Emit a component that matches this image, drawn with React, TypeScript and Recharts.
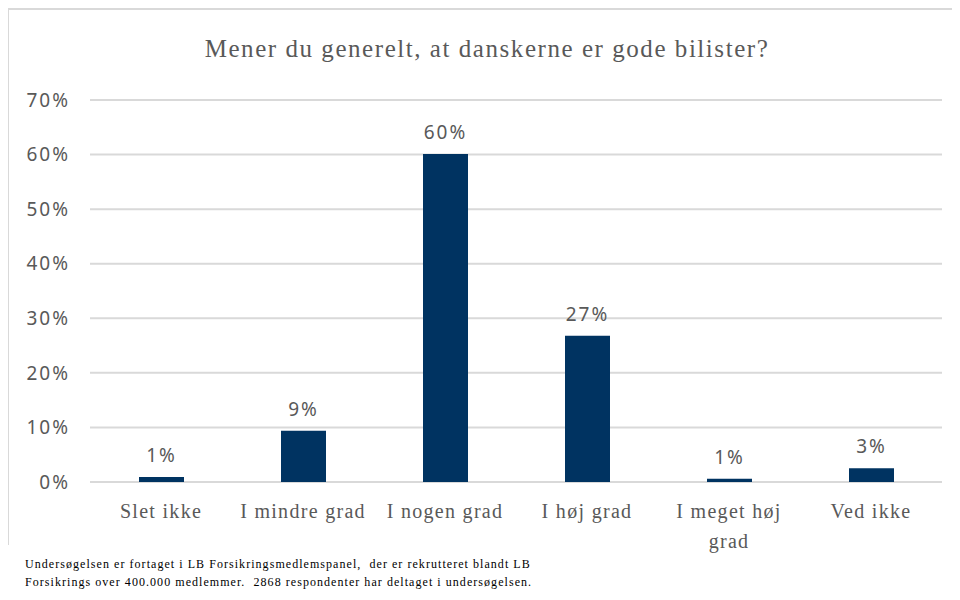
import React from 'react';
import { BarChart, Bar, XAxis, YAxis, CartesianGrid, LabelList } from 'recharts';

const categories = ['Slet ikke', 'I mindre grad', 'I nogen grad', 'I høj grad', 'I meget høj grad', 'Ved ikke'];
const shares = [0.9, 9.4, 60.1, 26.8, 0.6, 2.5];
const yTicks = [0, 10, 20, 30, 40, 50, 60, 70];

const TITLE = 'Mener du generelt, at danskerne er gode bilister?';
const NOTE_1 = 'Undersøgelsen er fortaget i LB Forsikringsmedlemspanel,  der er rekrutteret blandt LB';
const NOTE_2 = 'Forsikrings over 400.000 medlemmer.  2868 respondenter har deltaget i undersøgelsen.';

const data = categories.map((name, i) => ({ name, value: shares[i] }));

const GREY = '#595959';
const NAVY = '#003361';
const SERIF = '"Liberation Serif", "DejaVu Serif", serif';
const SANS = '"Noto Sans", "Open Sans", sans-serif';

// long labels break before the last word, like the original
const splitLabel = (s: string) => {
  if (s.length <= 14) return [s];
  const i = s.lastIndexOf(' ');
  return [s.slice(0, i), s.slice(i + 1)];
};

const CategoryTick = ({ x, y, payload }: any) => {
  const lines = splitLabel(String(payload.value));
  return (
    <text
      x={x}
      y={y}
      textAnchor="middle"
      fontFamily={SERIF}
      fontSize={20}
      letterSpacing={1.3}
      fill={GREY}
    >
      {lines.map((l, i) => (
        <tspan key={i} x={x} dy={i === 0 ? 16 : 30}>
          {l}
        </tspan>
      ))}
    </text>
  );
};

const App: React.FC = () => {
  return (
    <div style={{ position: 'relative', width: 952, height: 592, background: '#fff' }}>
      <div
        style={{
          position: 'absolute',
          left: -1,
          top: 0,
          width: 960,
          height: 537,
          borderTop: '2px solid #d9d9d9',
          borderLeft: '2px solid #d9d9d9',
          boxSizing: 'border-box',
        }}
      />
      <div
        style={{
          position: 'absolute',
          left: 0,
          top: 27,
          width: 958,
          textAlign: 'center',
          fontFamily: SERIF,
          fontSize: 25,
          letterSpacing: 1.55,
          color: GREY,
        }}
      >
        {TITLE}
      </div>
      <div style={{ position: 'absolute', left: 0, top: 0 }}>
        <BarChart
          width={952}
          height={560}
          data={data}
          margin={{ top: 92, right: 18, bottom: 26, left: 0 }}
          barCategoryGap={0}
        >
          <CartesianGrid vertical={false} stroke="#d9d9d9" strokeWidth={2} />
          <XAxis
            dataKey="name"
            axisLine={false}
            tickLine={false}
            interval={0}
            height={60}
            tickMargin={14}
            tick={<CategoryTick />}
          />
          <YAxis
            domain={[0, 70]}
            ticks={yTicks}
            width={82}
            axisLine={false}
            tickLine={false}
            tickMargin={14}
            tickFormatter={(v: number) => `${v}%`}
            tick={{ fontFamily: SANS, fontSize: 19, fill: GREY, letterSpacing: 2 }}
          />
          <Bar dataKey="value" fill={NAVY} barSize={45} isAnimationActive={false}>
            <LabelList
              dataKey="value"
              position="top"
              offset={15}
              formatter={(v: any) => `${Math.round(Number(v))}%`}
              style={{ fontFamily: SANS, fontSize: 19, fill: GREY, letterSpacing: 2 }}
            />
          </Bar>
        </BarChart>
      </div>
      <div
        style={{
          position: 'absolute',
          left: 17,
          top: 548,
          fontFamily: SERIF,
          fontSize: 12,
          letterSpacing: 1.05,
          lineHeight: '17.5px',
          color: '#000',
          whiteSpace: 'pre',
        }}
      >
        <div>{NOTE_1}</div>
        <div>{NOTE_2}</div>
      </div>
    </div>
  );
};

export default App;
